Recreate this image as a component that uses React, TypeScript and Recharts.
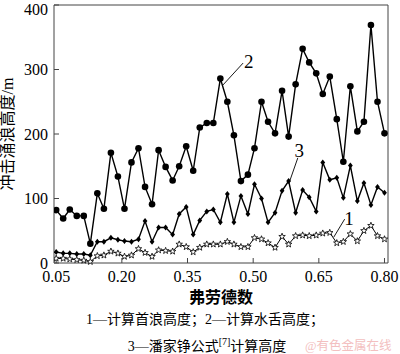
import React from 'react';
import {
  LineChart,
  Line,
  XAxis,
  YAxis,
  ReferenceLine,
  ReferenceDot
} from 'recharts';

// Froude numbers (x), 49 samples
const froude = [
  0.050, 0.066, 0.081, 0.097, 0.113, 0.128, 0.144, 0.159, 0.175, 0.191,
  0.206, 0.222, 0.238, 0.253, 0.269, 0.284, 0.300, 0.316, 0.331, 0.347,
  0.363, 0.378, 0.394, 0.409, 0.425, 0.441, 0.456, 0.472, 0.488, 0.503,
  0.519, 0.534, 0.550, 0.566, 0.581, 0.597, 0.613, 0.628, 0.644, 0.659,
  0.675, 0.691, 0.706, 0.722, 0.738, 0.753, 0.769, 0.784, 0.800
];

// 1 — calculated first wave height (stars)
const firstWave = [
  7, 7, 6, 5, 4, 2, 11, 12, 18, 15,
  10, 12, 22, 16, 10, 20, 19, 18, 29, 25,
  17, 24, 29, 29, 29, 33, 29, 25, 25, 39,
  37, 31, 24, 41, 29, 42, 43, 42, 43, 46,
  47, 31, 33, 45, 34, 50, 58, 42, 37
];

// 2 — calculated water tongue height (circles)
const tongue = [
  82, 69, 83, 73, 73, 30, 108, 84, 171, 134,
  84, 156, 178, 118, 91, 175, 149, 128, 150, 181,
  143, 210, 217, 217, 286, 250, 198, 127, 137, 178,
  250, 219, 201, 267, 196, 277, 332, 311, 294, 262,
  289, 223, 157, 274, 204, 219, 369, 250, 201
];

// 3 — Pan Jiazheng formula (diamonds)
const panFormula = [
  17, 15, 15, 14, 14, 12, 33, 33, 39, 36,
  34, 33, 37, 65, 33, 55, 55, 44, 76, 87,
  44, 66, 80, 83, 63, 107, 63, 104, 76, 122,
  100, 63, 78, 112, 127, 78, 113, 102, 80, 156,
  129, 132, 101, 151, 96, 124, 90, 118, 109
];

const xTicks = [0.05, 0.2, 0.35, 0.5, 0.65, 0.8];
const yTicks = [0, 100, 200, 300, 400];

const data = froude.map((f, i) => ({
  f,
  s1: firstWave[i],
  s2: tongue[i],
  s3: panFormula[i]
}));

const serif = "'Liberation Serif', 'Times New Roman', 'DejaVu Serif', 'Noto Sans CJK SC', serif";

// recharts text nodes: force the serif face
const css = `
.chart-wrap text, .chart-wrap tspan { font-family: ${serif} !important; }
`;

const CircleDot = (props: any) => {
  const { cx, cy, index } = props;
  if (cx == null || cy == null) return null;
  return <circle key={`c${index}`} cx={cx} cy={cy} r={3.3} fill="#000" />;
};

const DiamondDot = (props: any) => {
  const { cx, cy, index } = props;
  if (cx == null || cy == null) return null;
  const r = 3;
  return (
    <path
      key={`d${index}`}
      d={`M${cx},${cy - r}L${cx + r * 0.8},${cy}L${cx},${cy + r}L${cx - r * 0.8},${cy}Z`}
      fill="#000"
    />
  );
};

const StarDot = (props: any) => {
  const { cx, cy, index } = props;
  if (cx == null || cy == null) return null;
  const pts: string[] = [];
  for (let k = 0; k < 10; k++) {
    const rad = k % 2 === 0 ? 3.4 : 1.4;
    const a = -Math.PI / 2 + (k * Math.PI) / 5;
    pts.push(`${cx + rad * Math.cos(a)},${cy + rad * Math.sin(a)}`);
  }
  return (
    <polygon key={`s${index}`} points={pts.join(' ')} fill="#fff" stroke="#000" strokeWidth={0.8} />
  );
};

const numLabel = (v: string) => ({
  value: v,
  position: 'center' as const,
  fontSize: 19,
  fill: '#000'
});

export default function App() {
  return (
    <div
      className="chart-wrap"
      style={{
        position: 'absolute',
        left: 0,
        top: 0,
        width: 400,
        height: 354,
        background: '#fff',
        fontFamily: serif
      }}
    >
      <style>{css}</style>
      <LineChart
        width={400}
        height={285}
        data={data}
        margin={{ top: 5, right: 12, bottom: 0, left: 0 }}
        style={{ overflow: 'visible' }}
      >
        <XAxis
          dataKey="f"
          type="number"
          domain={[0.045, 0.808]}
          ticks={xTicks}
          tickFormatter={(v: number) => v.toFixed(2)}
          tick={{ fontSize: 16, fill: '#000' }}
          tickSize={-5}
          tickMargin={13}
          height={22}
          stroke="#444"
          allowDataOverflow
        />
        <YAxis
          type="number"
          domain={[0, 400]}
          ticks={yTicks}
          tick={{ fontSize: 16, fill: '#000' }}
          tickSize={-5}
          tickMargin={11}
          width={54}
          stroke="#444"
          label={{
            value: '冲击涌浪高度/m',
            angle: -90,
            position: 'insideLeft',
            offset: 0,
            dx: 7,
            fontSize: 16,
            fill: '#000',
            style: { textAnchor: 'middle' }
          }}
        />
        <ReferenceLine y={400} stroke="#444" />
        <ReferenceLine x={0.808} stroke="#444" />

        <Line
          type="linear"
          dataKey="s2"
          stroke="#000"
          strokeWidth={1.4}
          dot={CircleDot}
          activeDot={false}
          isAnimationActive={false}
        />
        <Line
          type="linear"
          dataKey="s3"
          stroke="#000"
          strokeWidth={1.4}
          dot={DiamondDot}
          activeDot={false}
          isAnimationActive={false}
        />
        <Line
          type="linear"
          dataKey="s1"
          stroke="#000"
          strokeWidth={1}
          dot={StarDot}
          activeDot={false}
          isAnimationActive={false}
        />

        {/* leader lines and series numbers */}
        <ReferenceLine segment={[{ x: 0.431, y: 276 }, { x: 0.477, y: 310 }]} stroke="#000" strokeWidth={0.9} />
        <ReferenceDot x={0.49} y={313} r={0} fill="none" stroke="none" label={numLabel('2')} />
        <ReferenceLine segment={[{ x: 0.584, y: 128 }, { x: 0.602, y: 163 }]} stroke="#000" strokeWidth={0.9} />
        <ReferenceDot x={0.605} y={175} r={0} fill="none" stroke="none" label={numLabel('3')} />
        <ReferenceLine segment={[{ x: 0.684, y: 40 }, { x: 0.709, y: 68 }]} stroke="#000" strokeWidth={0.9} />
        <ReferenceDot x={0.719} y={70} r={0} fill="none" stroke="none" label={numLabel('1')} />
      </LineChart>

      <div
        style={{
          position: 'absolute',
          left: 0,
          width: 442,
          top: 287,
          textAlign: 'center',
          fontSize: 16,
          fontWeight: 'bold',
          lineHeight: '22px'
        }}
      >
        弗劳德数
      </div>
      <div
        style={{
          position: 'absolute',
          left: 0,
          width: 410,
          top: 311,
          textAlign: 'center',
          fontSize: 14,
          lineHeight: '18px'
        }}
      >
        1—计算首浪高度；2—计算水舌高度；
      </div>
      <div
        style={{
          position: 'absolute',
          left: 0,
          width: 414,
          top: 333,
          textAlign: 'center',
          fontSize: 14,
          lineHeight: '18px'
        }}
      >
        3—潘家铮公式<sup style={{ fontSize: 10 }}>[7]</sup>计算高度
      </div>
      <div
        style={{
          position: 'absolute',
          left: 305,
          top: 338,
          fontSize: 12.5,
          color: '#f3c0c0',
          lineHeight: '16px',
          whiteSpace: 'nowrap'
        }}
      >
        @有色金属在线
      </div>
    </div>
  );
}
